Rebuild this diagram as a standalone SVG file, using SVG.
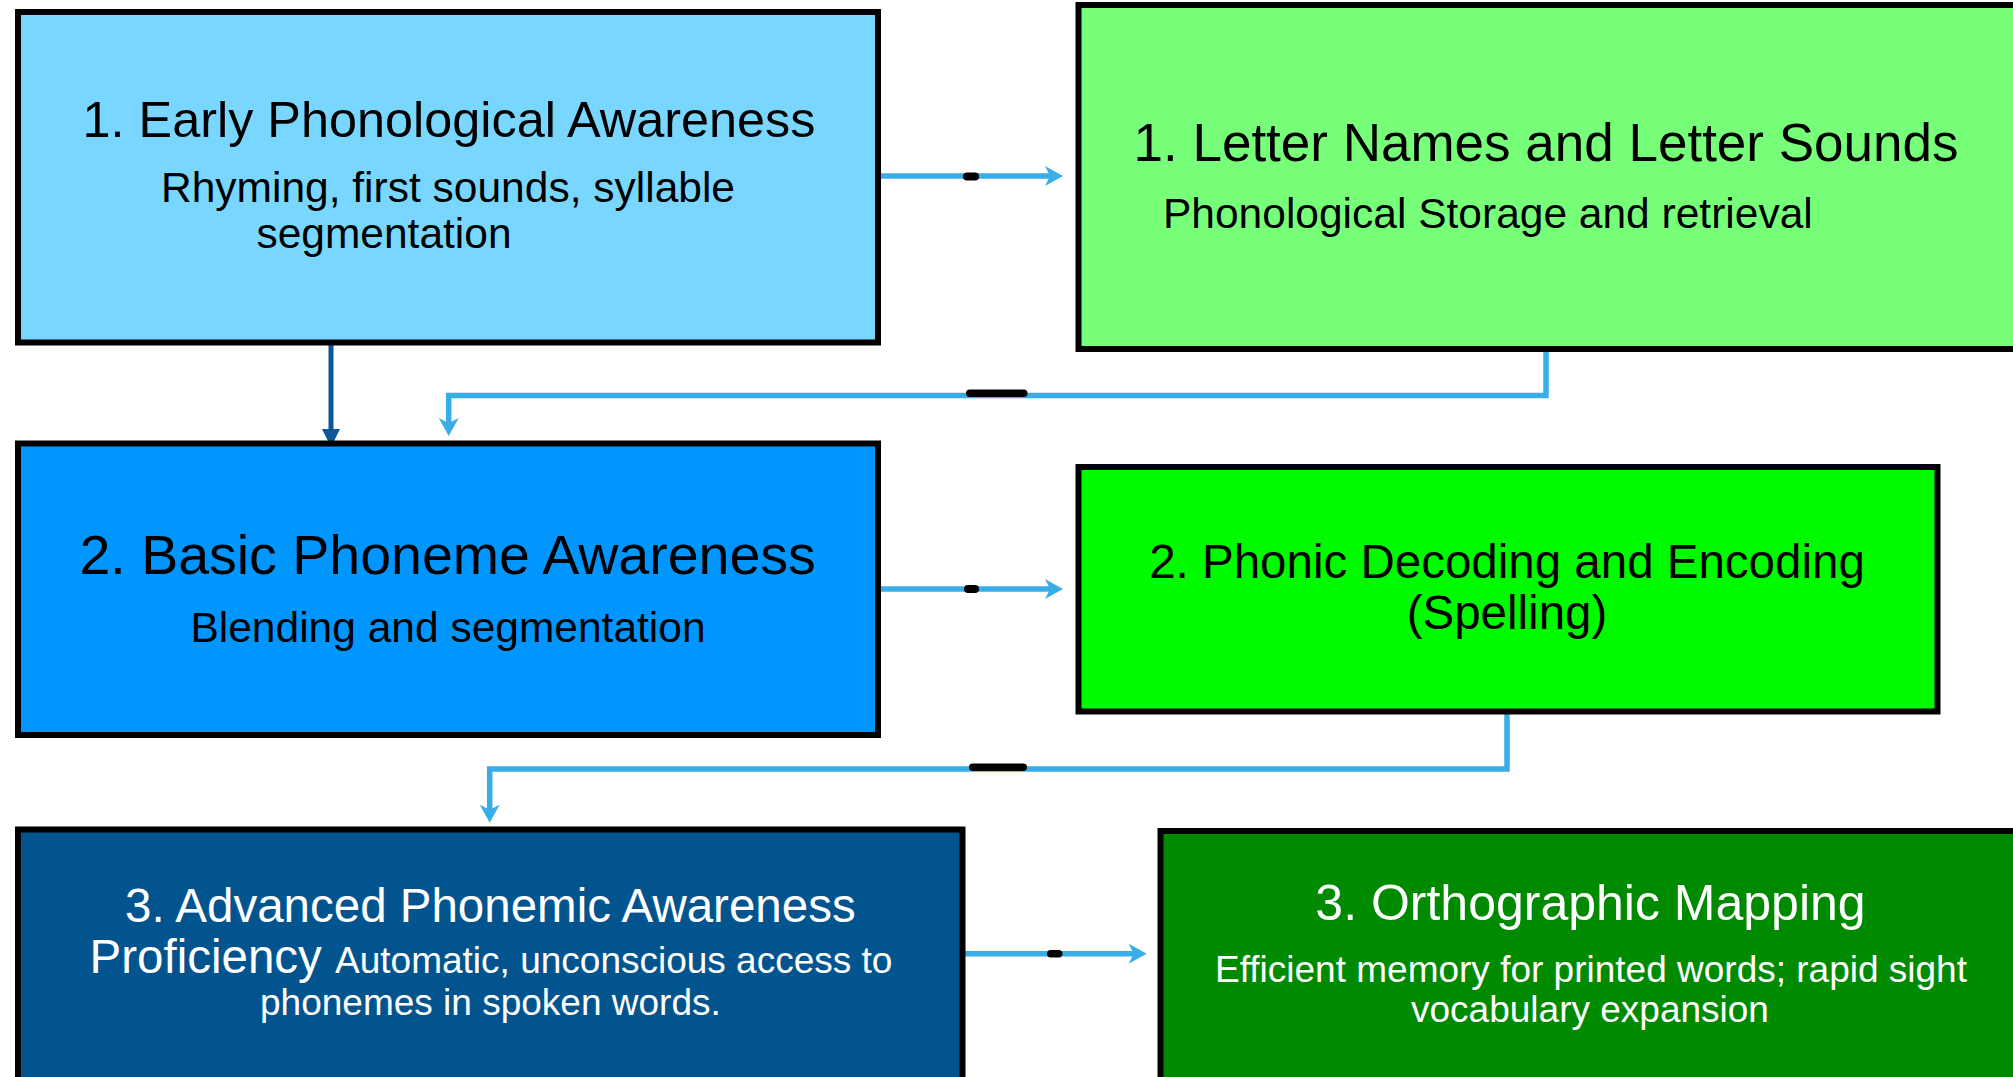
<svg xmlns="http://www.w3.org/2000/svg" width="2013" height="1077" viewBox="0 0 2013 1077">
<style>
.box{stroke:#000;stroke-width:6}
.t{font-family:"Liberation Sans",Arial,sans-serif;fill:#000}
.w{fill:#fff}
.m{text-anchor:middle}
.conn{fill:none;stroke:#38ADE8;stroke-width:5.5;stroke-linejoin:miter}
.dark{fill:none;stroke:#0B5797;stroke-width:5}
.tick{fill:#000}
</style>
<defs>
<marker id="ah" viewBox="0 0 18 20" refX="10" refY="10" markerWidth="18" markerHeight="20" markerUnits="userSpaceOnUse" orient="auto">
<path d="M0,0 L18,10 L0,20 L5,10 Z" fill="#38ADE8"/>
</marker>
<marker id="ahd" viewBox="0 0 18 18" refX="10" refY="9" markerWidth="18" markerHeight="18" markerUnits="userSpaceOnUse" orient="auto">
<path d="M0,0 L18,9 L0,18 Z" fill="#0B5797"/>
</marker>
</defs>
<rect width="2013" height="1077" fill="#fff"/>

<g id="connectors">
<path class="conn" d="M881,176 H1055" marker-end="url(#ah)"/>
<rect class="tick" x="963" y="172.5" width="16" height="8" rx="4"/>
<path class="dark" d="M331,337 V439" marker-end="url(#ahd)"/>
<path class="conn" d="M1546,351 V395.5 H448.7 V428" marker-end="url(#ah)"/>
<rect class="tick" x="966" y="389.5" width="61.5" height="7.5" rx="3.7"/>
<path class="conn" d="M881,589 H1055" marker-end="url(#ah)"/>
<rect class="tick" x="964" y="585" width="15" height="8" rx="4"/>
<path class="conn" d="M1507,714 V769 H489.7 V814.7" marker-end="url(#ah)"/>
<rect class="tick" x="969" y="763.5" width="58" height="7.5" rx="3.7"/>
<path class="conn" d="M965,953.7 H1138.7" marker-end="url(#ah)"/>
<rect class="tick" x="1047" y="950" width="15.5" height="7.5" rx="3.7"/>
</g>

<g id="node-early-phonological">
<rect class="box" x="18" y="12" width="860" height="330.5" fill="#78D6FF"/>
<text class="t m" x="449" y="137" font-size="50.4">1. Early Phonological Awareness</text>
<text class="t m" x="448" y="202" font-size="42.5">Rhyming, first sounds, syllable</text>
<text class="t m" x="384" y="248" font-size="42.5">segmentation</text>
</g>

<g id="node-letter-names">
<rect class="box" x="1078.5" y="5" width="940" height="344" fill="#78FF7A"/>
<text class="t m" x="1546" y="161" font-size="53">1. Letter Names and Letter Sounds</text>
<text class="t" x="1163" y="228" font-size="42.5">Phonological Storage and retrieval</text>
</g>

<g id="node-basic-phoneme">
<rect class="box" x="18" y="443.5" width="860" height="291.5" fill="#0096FF"/>
<text class="t m" x="447.6" y="574" font-size="55.5">2. Basic Phoneme Awareness</text>
<text class="t m" x="448" y="641.7" font-size="42.5">Blending and segmentation</text>
</g>

<g id="node-phonic-decoding">
<rect class="box" x="1078.5" y="467" width="859" height="244.5" fill="#00FA00"/>
<text class="t m" x="1507" y="577.7" font-size="47.5">2. Phonic Decoding and Encoding</text>
<text class="t m" x="1507" y="629.3" font-size="47.5">(Spelling)</text>
</g>

<g id="node-advanced-phonemic">
<rect class="box" x="18" y="829.5" width="944.5" height="260" fill="#02548F"/>
<text class="t w m" x="490.4" y="922.3" font-size="47.5">3. Advanced Phonemic Awareness</text>
<text class="t w m" x="491" y="973" font-size="47.5">Proficiency <tspan font-size="37">Automatic, unconscious access to</tspan></text>
<text class="t w m" x="490.4" y="1015" font-size="37">phonemes in spoken words.</text>
</g>

<g id="node-orthographic">
<rect class="box" x="1160.5" y="831" width="860" height="260" fill="#008A00"/>
<text class="t w m" x="1590.5" y="920" font-size="50">3. Orthographic Mapping</text>
<text class="t w m" x="1591" y="981.7" font-size="37">Efficient memory for printed words; rapid sight</text>
<text class="t w m" x="1590" y="1021.7" font-size="37">vocabulary expansion</text>
</g>
</svg>
